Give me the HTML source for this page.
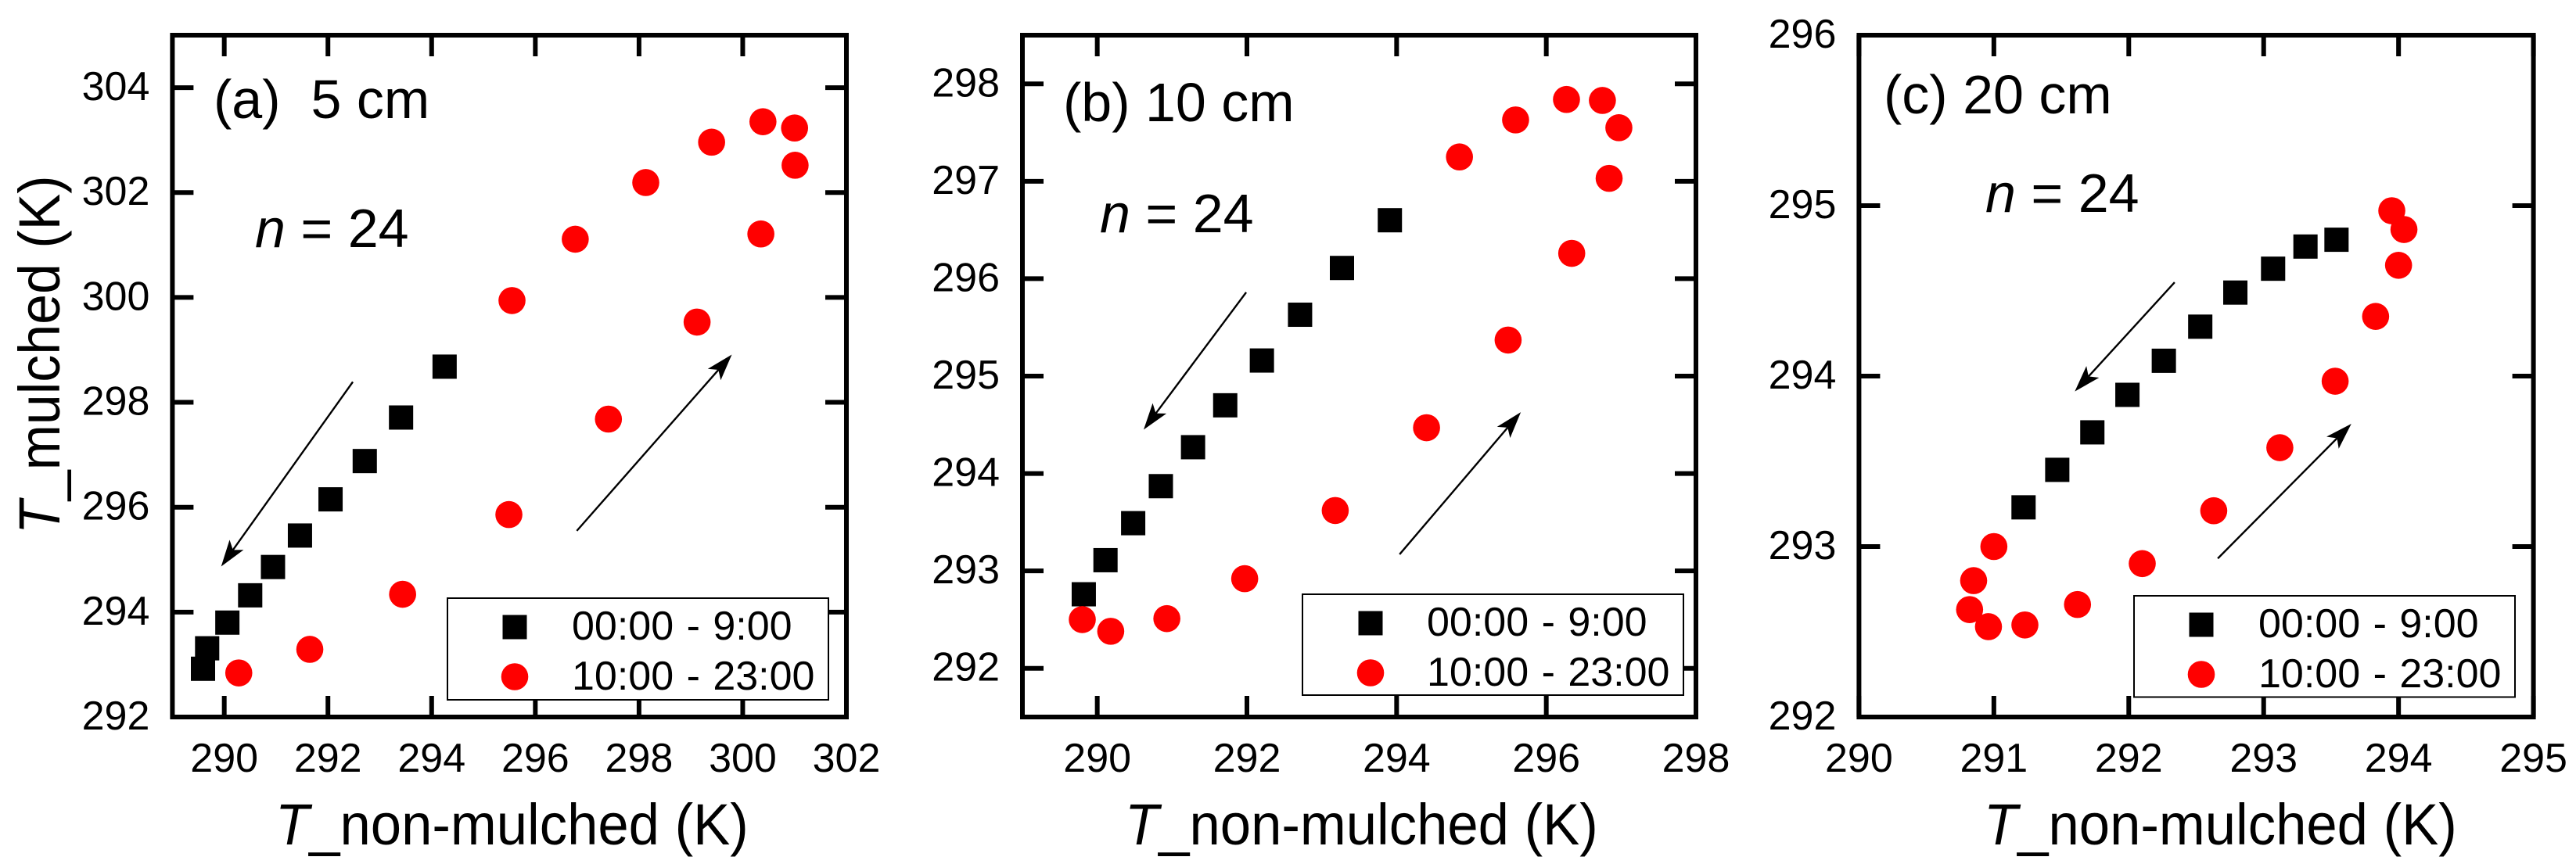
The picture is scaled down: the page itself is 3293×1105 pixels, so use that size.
<!DOCTYPE html>
<html lang="en">
<head>
<meta charset="utf-8">
<title>T mulched vs T non-mulched</title>
<style>
html,body{margin:0;padding:0;background:#fff;}
svg{display:block;font-family:"Liberation Sans",Arial,sans-serif;}
</style>
</head>
<body>
<svg id="chart" xmlns="http://www.w3.org/2000/svg" width="3293" height="1105" viewBox="0 0 3293 1105">
<rect x="0" y="0" width="3293" height="1105" fill="#ffffff"/>
</svg>
<script>
const seriesLabels = ['00:00 - 9:00', '10:00 - 23:00'];

const aXTicks = [290, 292, 294, 296, 298, 300, 302];
const aYTicks = [292, 294, 296, 298, 300, 302, 304];
const aBlackX = [289.59, 289.67, 290.06, 290.50, 290.94, 291.46, 292.05, 292.71, 293.41, 294.25];
const aBlackY = [292.92, 293.31, 293.80, 294.32, 294.86, 295.46, 296.15, 296.88, 297.71, 298.68];
const aRedX = [290.28, 291.65, 293.44, 295.49, 297.41, 299.12, 300.35, 301.01, 301.00, 300.39, 299.40, 298.13, 296.77, 295.55];
const aRedY = [292.84, 293.29, 294.34, 295.86, 297.68, 299.53, 301.21, 302.52, 303.23, 303.35, 302.96, 302.19, 301.11, 299.94];
const aArrows = [[292.48, 298.39, 289.94, 294.87], [296.80, 295.55, 299.79, 298.91]];

const bXTicks = [290, 292, 294, 296, 298];
const bYTicks = [292, 293, 294, 295, 296, 297, 298];
const bBlackX = [289.82, 290.11, 290.48, 290.85, 291.28, 291.71, 292.20, 292.71, 293.27, 293.91];
const bBlackY = [292.76, 293.11, 293.49, 293.87, 294.27, 294.70, 295.16, 295.63, 296.11, 296.60];
const bRedX = [289.80, 290.18, 290.93, 291.97, 293.18, 294.40, 295.49, 296.34, 296.84, 296.97, 296.75, 296.27, 295.59, 294.84];
const bRedY = [292.50, 292.38, 292.51, 292.92, 293.62, 294.47, 295.37, 296.26, 297.03, 297.55, 297.83, 297.84, 297.63, 297.25];
const bArrows = [[291.99, 295.86, 290.62, 294.45], [294.04, 293.17, 295.66, 294.63]];

const cXTicks = [290, 291, 292, 293, 294, 295];
const cYTicks = [292, 293, 294, 295, 296];
const cBlackX = [291.22, 291.47, 291.73, 291.99, 292.26, 292.53, 292.79, 293.07, 293.31, 293.54];
const cBlackY = [293.23, 293.45, 293.67, 293.89, 294.09, 294.29, 294.49, 294.63, 294.76, 294.80];
const cRedX = [291.00, 290.85, 290.82, 290.96, 291.23, 291.62, 292.10, 292.63, 293.12, 293.53, 293.83, 294.00, 294.04, 293.95];
const cRedY = [293.00, 292.80, 292.63, 292.53, 292.54, 292.66, 292.90, 293.21, 293.58, 293.97, 294.35, 294.65, 294.86, 294.97];
const cArrows = [[292.34, 294.55, 291.60, 293.91], [292.66, 292.93, 293.65, 293.72]];

const NS = 'http://www.w3.org/2000/svg';
const root = document.getElementById('chart');

function make(tag, attrs, parent) {
  const el = document.createElementNS(NS, tag);
  for (const k in attrs) el.setAttribute(k, attrs[k]);
  parent.appendChild(el);
  return el;
}

function titleText(parent, attrs, italicPart, rest) {
  const t = make('text', attrs, parent);
  const i = make('tspan', {'font-style': 'italic'}, t);
  i.textContent = italicPart;
  const r = make('tspan', {}, t);
  r.textContent = rest;
  return t;
}

function drawPanel(p) {
  const g = make('g', {}, root);
  
  

  const sx = v => p.left + (v - p.xMin) / (p.xMax - p.xMin) * (p.right - p.left);
  const sy = v => p.bottom - (v - p.yMin) / (p.yMax - p.yMin) * (p.bottom - p.top);
  const TICK = 27, FS = 52;

  p.xTicks.forEach(v => {
    const x = sx(v);
    const bt = make('line', {x1: x, x2: x, y1: p.bottom, y2: p.bottom - TICK, stroke: '#000', 'stroke-width': 6}, g);
    
    
    const tt = make('line', {x1: x, x2: x, y1: p.top, y2: p.top + TICK, stroke: '#000', 'stroke-width': 6}, g);
    
    
    const lab = make('text', {x: x, y: p.bottom + 70, 'font-size': FS, 'text-anchor': 'middle', fill: '#000'}, g);
    
    
    lab.textContent = v;
  });

  p.yTicks.forEach(v => {
    const y = sy(v);
    const lt = make('line', {x1: p.left, x2: p.left + TICK, y1: y, y2: y, stroke: '#000', 'stroke-width': 6}, g);
    
    
    const rt = make('line', {x1: p.right, x2: p.right - TICK, y1: y, y2: y, stroke: '#000', 'stroke-width': 6}, g);
    
    
    const lab = make('text', {x: p.left - 29, y: y + 16, 'font-size': FS, 'text-anchor': 'end', fill: '#000'}, g);
    
    
    lab.textContent = v;
  });

  const frame = make('rect', {x: p.left, y: p.top, width: p.right - p.left, height: p.bottom - p.top, fill: 'none', stroke: '#000', 'stroke-width': 6}, g);
  
  

  p.blackX.forEach((v, i) => {
    const s = make('rect', {x: sx(v) - 15.5, y: sy(p.blackY[i]) - 15.5, width: 31, height: 31, fill: '#000'}, g);
    
    
  });
  p.redX.forEach((v, i) => {
    const c = make('circle', {cx: sx(v), cy: sy(p.redY[i]), r: 17.3, fill: '#ff0000'}, g);
    
    
  });

  p.arrows.forEach(a => {
    const x1 = sx(a[0]), y1 = sy(a[1]), x2 = sx(a[2]), y2 = sy(a[3]);
    const L = Math.hypot(x2 - x1, y2 - y1), ux = (x2 - x1) / L, uy = (y2 - y1) / L;
    const len = 34, hw = 11, notch = 26;
    const ln = make('line', {x1: x1, y1: y1, x2: x2 - ux * notch, y2: y2 - uy * notch, stroke: '#000', 'stroke-width': 2.4}, g);
    
    
    const bx = x2 - ux * len, by = y2 - uy * len, nx = x2 - ux * notch, ny = y2 - uy * notch;
    const pts = [x2, y2, bx - uy * hw, by + ux * hw, nx, ny, bx + uy * hw, by - ux * hw].join(' ');
    const hd = make('polygon', {points: pts, fill: '#000'}, g);
    
    
  });

  const label = make('text', {x: p.labelX, y: p.labelY, 'font-size': 70, fill: '#000', style: 'white-space:pre'}, g);
  
  
  label.textContent = p.label;

  const nText = titleText(g, {x: p.nX, y: p.nY, 'font-size': 70, fill: '#000'}, 'n', ' = 24');
  
  

  const xTitle = titleText(g, {transform: 'translate(' + p.xTitleX + ' 1080) scale(0.955 1)', 'font-size': 74, fill: '#000'}, 'T', '_non-mulched (K)');
  
  

  const lg = make('g', {}, g);
  
  
  const box = make('rect', {x: p.lgL, y: p.lgT, width: p.lgR - p.lgL, height: p.lgB - p.lgT, fill: '#fff', stroke: '#000', 'stroke-width': 2}, lg);
  
  
  const ms = make('rect', {x: p.lgMX - 15.5, y: p.lgT + 37 - 15.5, width: 31, height: 31, fill: '#000'}, lg);
  
  
  const mc = make('circle', {cx: p.lgMX, cy: p.lgT + 100.5, r: 17.3, fill: '#ff0000'}, lg);
  
  
  const t1 = make('text', {x: p.lgTX, y: p.lgT + 53, 'font-size': 52, 'word-spacing': 2, fill: '#000'}, lg);
  
  
  t1.textContent = seriesLabels[0];
  const t2 = make('text', {x: p.lgTX, y: p.lgT + 117, 'font-size': 52, 'word-spacing': 2, fill: '#000'}, lg);
  
  
  t2.textContent = seriesLabels[1];
}

drawPanel({id: 'a', left: 220.4, right: 1082, top: 45, bottom: 917, xMin: 289, xMax: 302, yMin: 292, yMax: 305,
  xTicks: aXTicks, yTicks: aYTicks, blackX: aBlackX, blackY: aBlackY, redX: aRedX, redY: aRedY, arrows: aArrows,
  label: '(a)  5 cm', labelX: 273, labelY: 151, nX: 326, nY: 316, xTitleX: 352,
  lgL: 572, lgR: 1059, lgT: 765, lgB: 895, lgMX: 658, lgTX: 731});

drawPanel({id: 'b', left: 1307, right: 2168, top: 45, bottom: 917, xMin: 289, xMax: 298, yMin: 291.5, yMax: 298.5,
  xTicks: bXTicks, yTicks: bYTicks, blackX: bBlackX, blackY: bBlackY, redX: bRedX, redY: bRedY, arrows: bArrows,
  label: '(b) 10 cm', labelX: 1359, labelY: 155, nX: 1406, nY: 297, xTitleX: 1438,
  lgL: 1665, lgR: 2152, lgT: 760, lgB: 889, lgMX: 1752, lgTX: 1824});

drawPanel({id: 'c', left: 2376.4, right: 3238.6, top: 45, bottom: 917, xMin: 290, xMax: 295, yMin: 292, yMax: 296,
  xTicks: cXTicks, yTicks: cYTicks, blackX: cBlackX, blackY: cBlackY, redX: cRedX, redY: cRedY, arrows: cArrows,
  label: '(c) 20 cm', labelX: 2408, labelY: 145, nX: 2538, nY: 271, xTitleX: 2536,
  lgL: 2728, lgR: 3215, lgT: 762, lgB: 891.5, lgMX: 2814, lgTX: 2887});

const yTitle = titleText(root, {transform: 'translate(76 683) rotate(-90) scale(0.945 1)', 'font-size': 74, fill: '#000'}, 'T', '_mulched (K)');


</script>
</body>
</html>
